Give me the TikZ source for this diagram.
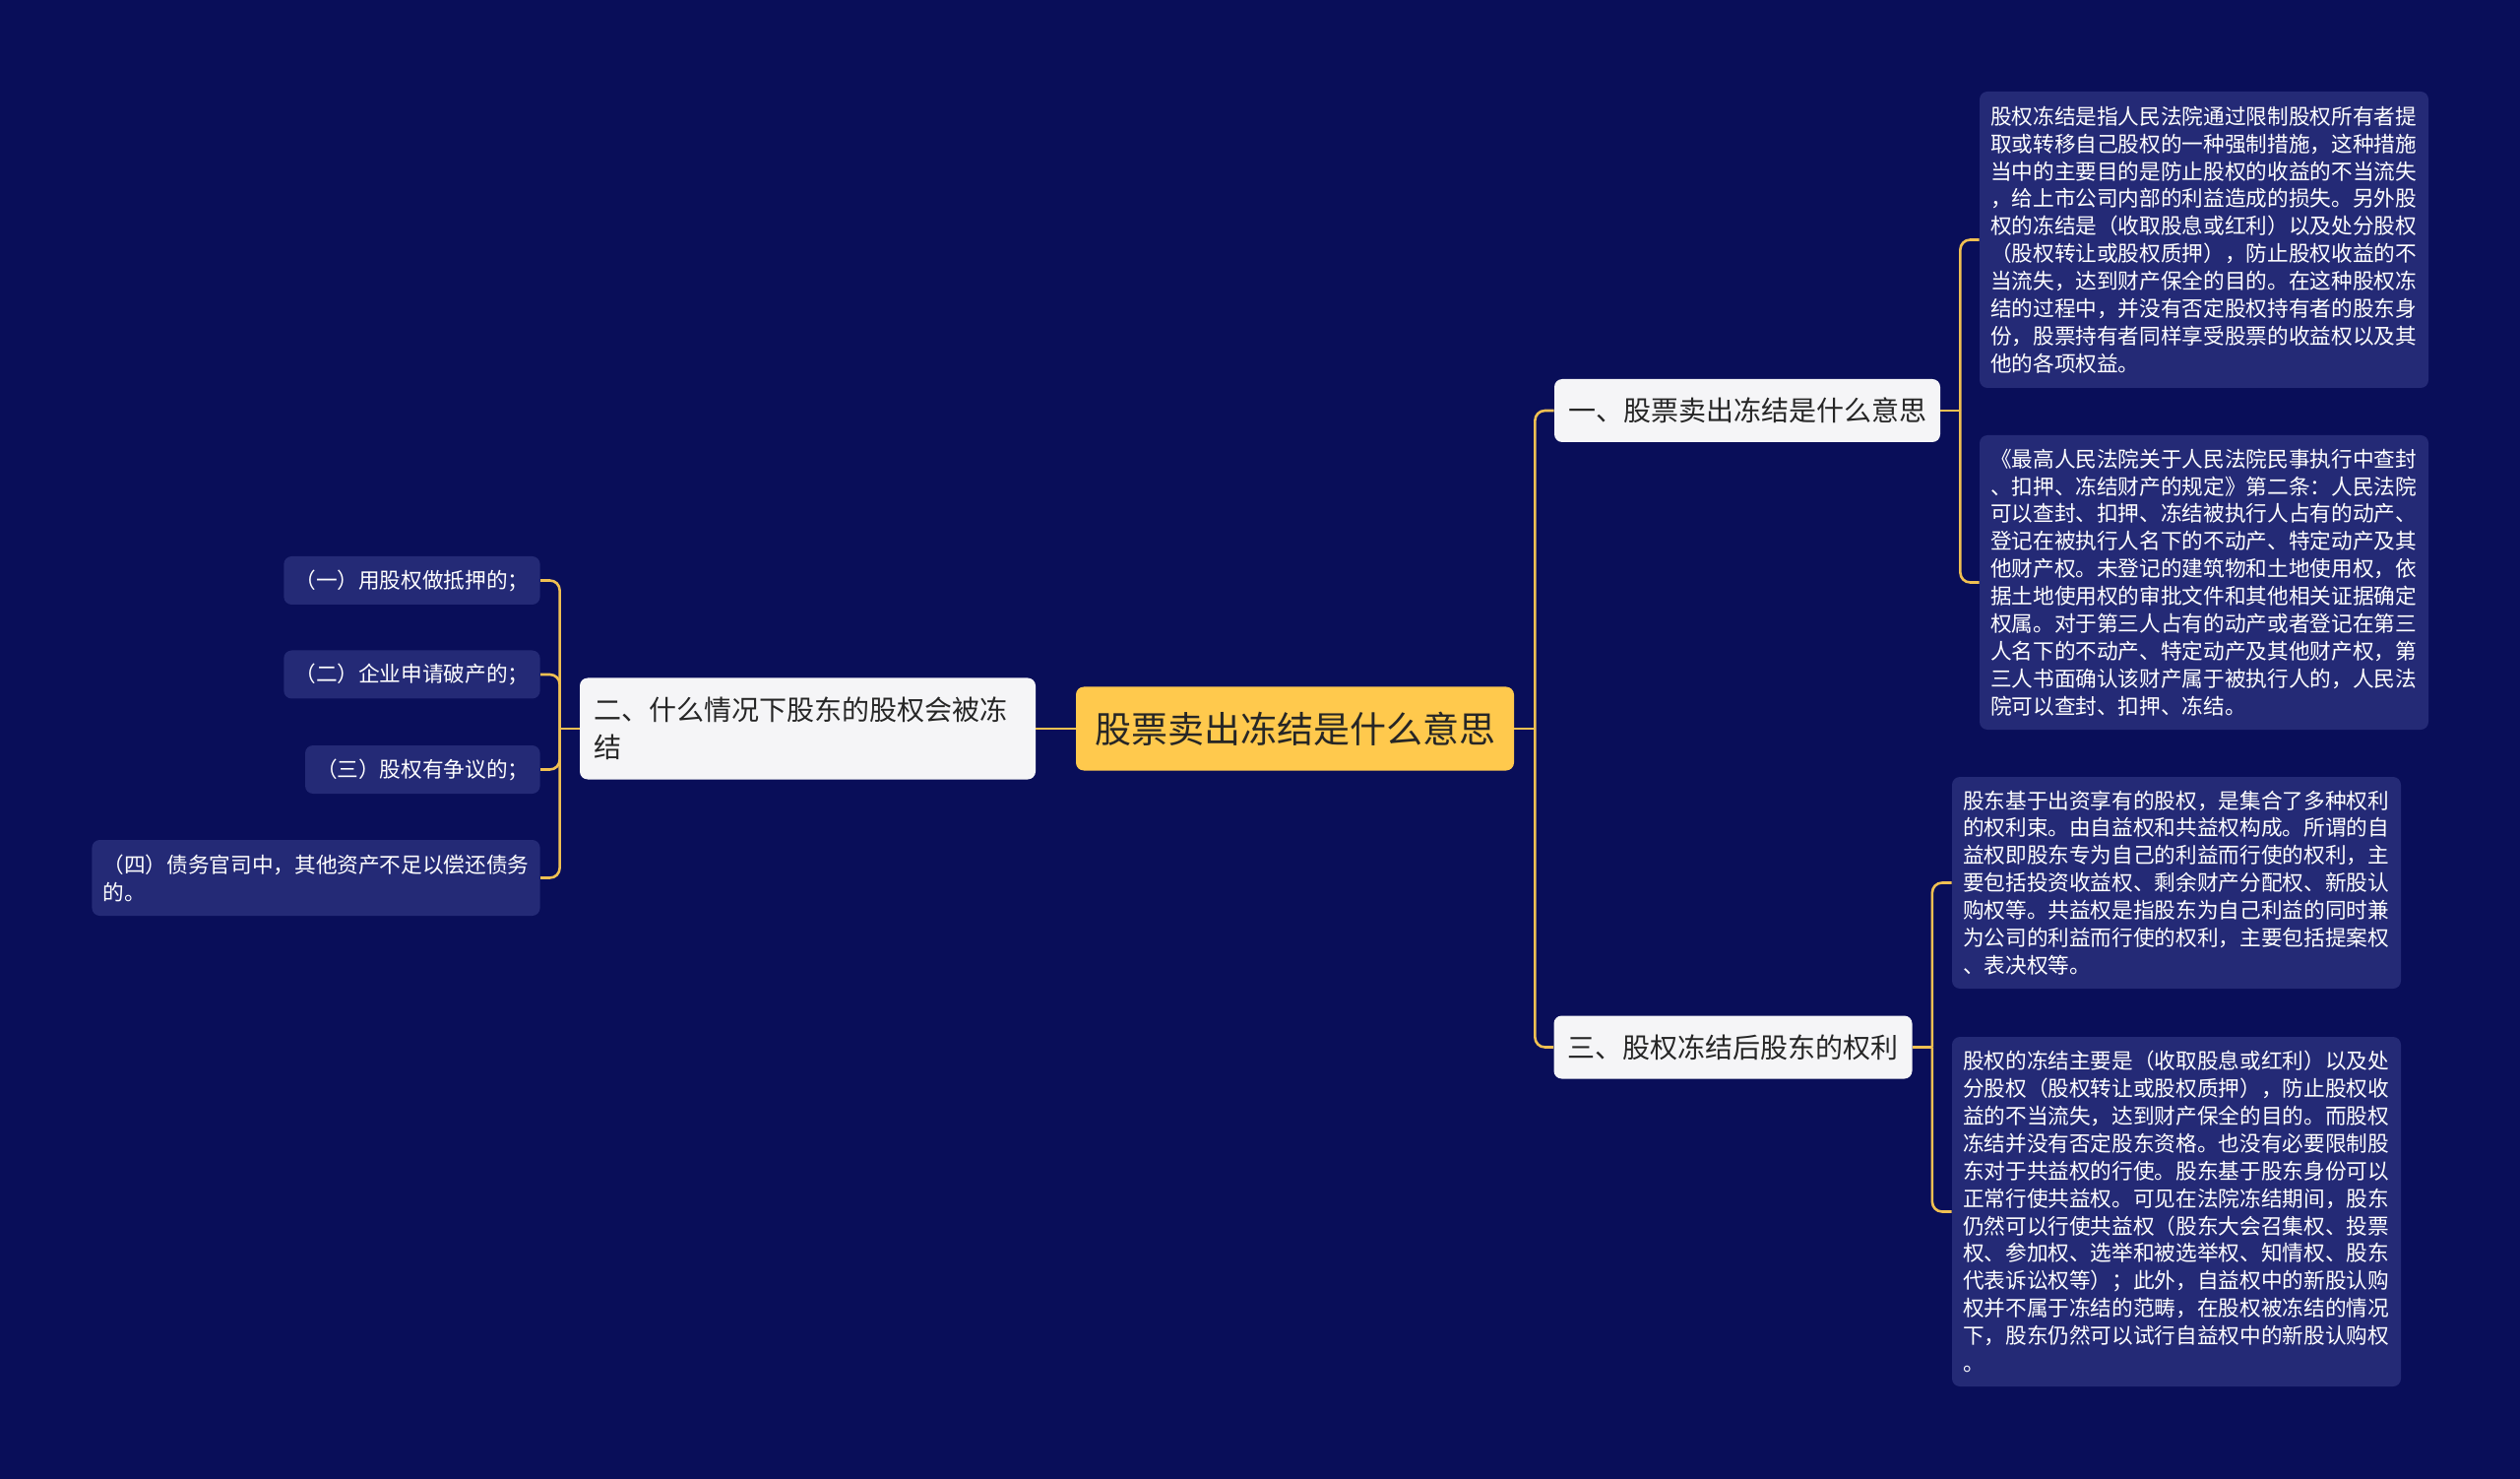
\documentclass[tikz,border=0pt]{standalone}
\usepackage{fontspec}
\setmainfont{Noto Sans CJK SC}

\definecolor{bgnavy}{RGB}{9,14,89}
\definecolor{leafblue}{RGB}{36,42,118}
\definecolor{rootgold}{RGB}{255,201,77}
\definecolor{linkgold}{RGB}{240,192,82}
\definecolor{branchwhite}{RGB}{245,245,247}
\definecolor{inkdark}{RGB}{38,38,38}

\begin{document}
\begin{tikzpicture}[x=0.5pt,y=-0.5pt,
  link/.style={draw=linkgold, line width=1.3pt, rounded corners=5pt},
  rootbox/.style={fill=rootgold, text=inkdark, rounded corners=4pt,
    font=\fontsize{18.5pt}{22pt}\selectfont, minimum width=222.5pt, minimum height=42.5pt, inner sep=0pt},
  branchbox/.style={fill=branchwhite, text=inkdark, rounded corners=4pt,
    font=\fontsize{14pt}{19pt}\selectfont, inner xsep=7pt, minimum height=32pt},
  leafbox/.style={fill=leafblue, text=white, rounded corners=4pt,
    font=\fontsize{10.83pt}{13.95pt}\selectfont, inner xsep=5.5pt, minimum height=24.5pt},
  notebox/.style={leafbox, text width=217pt, align=left}
]

% background
\fill[bgnavy] (0,0) rectangle (2560,1502);
\useasboundingbox (0,0) rectangle (2560,1502);

% root
\node[rootbox] (root) at (1315.5,740) {股票卖出冻结是什么意思};

% left branch and its items
\node[branchbox, text width=217.5pt, align=left, minimum height=51.5pt] (b2) at (820.5,740)
  {二、什么情况下股东的股权会被冻\\结};
\node[leafbox, anchor=east] (l1) at (549,589.5) {（一）用股权做抵押的；};
\node[leafbox, anchor=east] (l2) at (549,685) {（二）企业申请破产的；};
\node[leafbox, anchor=east] (l3) at (549,781.5) {（三）股权有争议的；};
\node[leafbox, anchor=east, align=left, minimum height=38.5pt] (l4) at (549,891.5)
  {（四）债务官司中，其他资产不足以偿还债务\\的。};

% right branches
\node[branchbox] (b1) at (1775,417) {一、股票卖出冻结是什么意思};
\node[branchbox] (b3) at (1760.5,1063.5) {三、股权冻结后股东的权利};

% notes under branch one
\node[notebox, minimum height=150.5pt] (r1) at (2239,243.5) {%
股权冻结是指人民法院通过限制股权所有者提\\
取或转移自己股权的一种强制措施，这种措施\\
当中的主要目的是防止股权的收益的不当流失\\
，给上市公司内部的利益造成的损失。另外股\\
权的冻结是（收取股息或红利）以及处分股权\\
（股权转让或股权质押），防止股权收益的不\\
当流失，达到财产保全的目的。在这种股权冻\\
结的过程中，并没有否定股权持有者的股东身\\
份，股票持有者同样享受股票的收益权以及其\\
他的各项权益。};
\node[notebox, minimum height=149.5pt] (r2) at (2239,591.5) {%
《最高人民法院关于人民法院民事执行中查封\\
、扣押、冻结财产的规定》第二条：人民法院\\
可以查封、扣押、冻结被执行人占有的动产、\\
登记在被执行人名下的不动产、特定动产及其\\
他财产权。未登记的建筑物和土地使用权，依\\
据土地使用权的审批文件和其他相关证据确定\\
权属。对于第三人占有的动产或者登记在第三\\
人名下的不动产、特定动产及其他财产权，第\\
三人书面确认该财产属于被执行人的，人民法\\
院可以查封、扣押、冻结。};

% notes under branch three
\node[notebox, minimum height=107.5pt] (r3) at (2211,896.5) {%
股东基于出资享有的股权，是集合了多种权利\\
的权利束。由自益权和共益权构成。所谓的自\\
益权即股东专为自己的利益而行使的权利，主\\
要包括投资收益权、剩余财产分配权、新股认\\
购权等。共益权是指股东为自己利益的同时兼\\
为公司的利益而行使的权利，主要包括提案权\\
、表决权等。};
\node[notebox, minimum height=177.5pt] (r4) at (2211,1230.5) {%
股权的冻结主要是（收取股息或红利）以及处\\
分股权（股权转让或股权质押），防止股权收\\
益的不当流失，达到财产保全的目的。而股权\\
冻结并没有否定股东资格。也没有必要限制股\\
东对于共益权的行使。股东基于股东身份可以\\
正常行使共益权。可见在法院冻结期间，股东\\
仍然可以行使共益权（股东大会召集权、投票\\
权、参加权、选举和被选举权、知情权、股东\\
代表诉讼权等）；此外，自益权中的新股认购\\
权并不属于冻结的范畴，在股权被冻结的情况\\
下，股东仍然可以试行自益权中的新股认购权\\
。};

% connectors
\coordinate (rspine) at ([xshift=10.5pt]root.east);
\coordinate (lspine) at ([xshift=-10pt]b2.west);
\coordinate (s1) at ([xshift=10pt]b1.east);
\coordinate (s3) at ([xshift=10pt]b3.east);

\draw[link] (root.west) -- (b2.east);
\draw[link] (root.east) -- (rspine);
\draw[link] (rspine) |- (b1.west);
\draw[link] (rspine) |- (b3.west);

\draw[link] (b2.west) -- (lspine);
\foreach \leaf in {l1,l2,l3,l4}
  \draw[link] (lspine) |- (\leaf.east);

\draw[link] (b1.east) -- (s1);
\draw[link] (s1) |- (r1.west);
\draw[link] (s1) |- (r2.west);

\draw[link] (b3.east) -- (s3);
\draw[link] (s3) |- (r3.west);
\draw[link] (s3) |- (r4.west);

\end{tikzpicture}
\end{document}
